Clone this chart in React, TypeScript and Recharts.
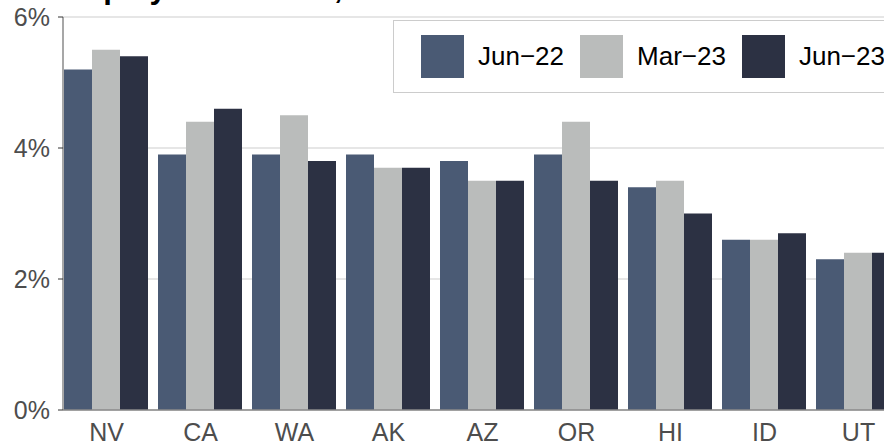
import React from "react";
import {
  BarChart,
  Bar,
  XAxis,
  YAxis,
  CartesianGrid,
} from "recharts";

const states = ["NV", "CA", "WA", "AK", "AZ", "OR", "HI", "ID", "UT"];
const jun22 = [5.2, 3.9, 3.9, 3.9, 3.8, 3.9, 3.4, 2.6, 2.3];
const mar23 = [5.5, 4.4, 4.5, 3.7, 3.5, 4.4, 3.5, 2.6, 2.4];
const jun23 = [5.4, 4.6, 3.8, 3.7, 3.5, 3.5, 3.0, 2.7, 2.4];
const yTicks = [0, 2, 4, 6];

const series = [
  { key: "jun22", label: "Jun\u221222", color: "#4a5a74" },
  { key: "mar23", label: "Mar\u221223", color: "#babcbb" },
  { key: "jun23", label: "Jun\u221223", color: "#2c3143" },
];

const data = states.map((s, i) => ({
  state: s,
  jun22: jun22[i],
  mar23: mar23[i],
  jun23: jun23[i],
}));

const font = "'Liberation Sans', Arial, sans-serif";

export default function App() {
  return (
    <div
      style={{
        position: "absolute",
        left: 0,
        top: 0,
        width: 884,
        height: 442,
        overflow: "hidden",
        background: "#fff",
        fontFamily: font,
      }}
    >
      <BarChart
        width={884}
        height={442}
        data={data}
        margin={{ top: 17, right: 0, bottom: 0, left: 0 }}
        barCategoryGap={4.5}
        barGap={0}
      >
        <CartesianGrid vertical={false} stroke="#dedede" strokeWidth={1.5} />
        <XAxis
          dataKey="state"
          height={32}
          padding={{ left: -3.5, right: -21.5 }}
          tickLine={false}
          axisLine={{ stroke: "#8a8a8a", strokeWidth: 1.5 }}
          tickMargin={7}
          tick={{ fill: "#4d4d4d", fontSize: 25, fontFamily: font }}
          interval={0}
        />
        <YAxis
          width={63}
          domain={[0, 6]}
          ticks={yTicks}
          tickFormatter={(v) => `${v}%`}
          tickSize={5}
          tickMargin={8}
          axisLine={{ stroke: "#8a8a8a", strokeWidth: 1.5 }}
          tickLine={{ stroke: "#333" }}
          tick={{ fill: "#4d4d4d", fontSize: 25, fontFamily: font }}
        />
        {series.map((s) => (
          <Bar
            key={s.key}
            dataKey={s.key}
            fill={s.color}
            isAnimationActive={false}
          />
        ))}
      </BarChart>

      {/* title sits mostly above the visible area, only descenders show */}
      <svg
        width={884}
        height={12}
        style={{ position: "absolute", left: 0, top: 0, overflow: "hidden" }}
      >
        <text
          x={17}
          y={-2.5}
          fontSize={31}
          fontWeight="bold"
          fontFamily={font}
          fill="#000"
        >
          Unemployment Rates, Select Western States
        </text>
      </svg>

      <div
        style={{
          position: "absolute",
          left: 393,
          top: 20,
          width: 600,
          height: 73,
          border: "1.5px solid #cccccc",
          background: "#fff",
          display: "flex",
          alignItems: "center",
          paddingLeft: 27,
          boxSizing: "border-box",
        }}
      >
        {series.map((s) => (
          <div
            key={s.key}
            style={{ display: "flex", alignItems: "center", marginRight: 16 }}
          >
            <div
              style={{ width: 43, height: 43, background: s.color, marginRight: 14 }}
            />
            <span style={{ fontSize: 26, color: "#000" }}>{s.label}</span>
          </div>
        ))}
      </div>
    </div>
  );
}
